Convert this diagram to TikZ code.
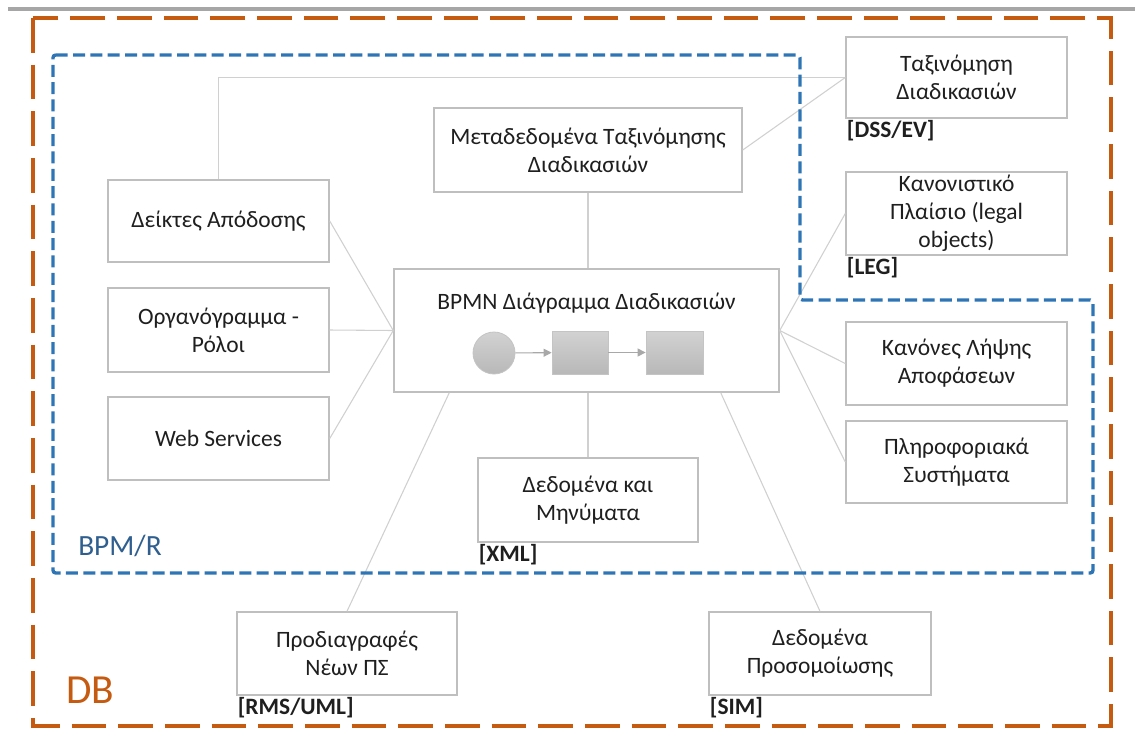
\documentclass[tikz,border=0pt]{standalone}
\usepackage{fontspec}
\setmainfont{Carlito}
\usetikzlibrary{arrows.meta,calc}
\definecolor{orangeDB}{HTML}{C55A11}
\definecolor{blueR}{HTML}{2E75B6}
\definecolor{bluetext}{HTML}{2F5F8F}
\definecolor{boxgray}{HTML}{BFBFBF}
\definecolor{linegray}{HTML}{D0D0D0}
\definecolor{txt}{HTML}{1F1F1F}
\definecolor{topgray}{HTML}{A6A6A6}
\definecolor{shapetop}{HTML}{D2D2D2}
\definecolor{shapebot}{HTML}{B8B8B8}
\definecolor{shapeedge}{HTML}{C4C4C4}
\definecolor{arrowgray}{HTML}{A8A8A8}
\newcommand\bxfont{\fontsize{17.6pt}{21pt}\selectfont}
\begin{document}
\begin{tikzpicture}[x=0.75pt,y=-0.75pt,
 box/.style 2 args={draw=boxgray,line width=1.1pt,fill=white,inner sep=0pt,align=center,text=txt,font=\bxfont,minimum width=#1*0.75pt,minimum height=#2*0.75pt},
 tag/.style={font=\bxfont\bfseries,text=txt,inner sep=1pt,anchor=north west},
 conn/.style={draw=linegray,line width=0.8pt},
 bshape/.style={draw=shapeedge,line width=0.6pt,top color=shapetop,bottom color=shapebot,inner sep=0pt},
 flow/.style={draw=arrowgray,line width=0.8pt,-{Triangle[length=6pt,width=6pt]}},
 ]
\useasboundingbox (0,0) rectangle (1135,729);
\draw[topgray,line width=2.3pt] (8,9) -- (1135,9);

% boxes
\node[box={221}{81}] (tax) at (956.5,77.5) {Ταξινόμηση\\Διαδικασιών};
\node[tag] (taxl) at (tax.south west) {[DSS/EV]};
\node[box={221}{83}] (leg) at (956.5,213.5) {Κανονιστικό\\Πλαίσιο (legal\\objects)};
\node[tag] (legl) at (leg.south west) {[LEG]};
\node[box={308}{84}] (meta) at (588,150) {Μεταδεδομένα Ταξινόμησης\\Διαδικασιών};
\node[box={221}{82}] (deik) at (218.5,221) {Δείκτες Απόδοσης};
\node[box={221}{84}] (org) at (218.5,330) {Οργανόγραμμα -\\Ρόλοι};
\node[box={221}{83}] (web) at (218.5,438.5) {Web Services};
\node[box={385}{123}] (bpmn) at (586.5,330.5) {};
\node[font=\bxfont,text=txt] (bpmnt) at (586.5,303) {BPMN Διάγραμμα Διαδικασιών};
\node[box={220}{84}] (msg) at (588,500) {Δεδομένα και\\Μηνύματα};
\node[tag] (msgl) at (msg.south west) {[XML]};
\node[box={221}{83}] (kan) at (956.5,363.5) {Κανόνες Λήψης\\Αποφάσεων};
\node[box={221}{82}] (pls) at (956.5,462) {Πληροφοριακά\\Συστήματα};
\node[box={220}{83}] (prod) at (347,653.5) {Προδιαγραφές\\Νέων ΠΣ};
\node[tag] (prodl) at (prod.south west) {[RMS/UML]};
\node[box={222}{83}] (sim) at (820,653.5) {Δεδομένα\\Προσομοίωσης};
\node[tag] (siml) at (sim.south west) {[SIM]};

% inner BPMN sketch
\node[bshape,circle,minimum size=42*0.75pt] (ev) at (494,353) {};
\node[bshape,rectangle,minimum width=56*0.75pt,minimum height=43*0.75pt] (t1) at (580,352.5) {};
\node[bshape,rectangle,minimum width=57*0.75pt,minimum height=43*0.75pt] (t2) at (674.5,352.5) {};
\draw[flow] (ev) -- (t1);
\draw[flow] (t1) -- (t2);

% connectors
\draw[conn] (deik.north) |- (tax.west);
\draw[conn] (meta.east) -- (tax.west);
\draw[conn] (meta.south) -- (meta.south |- bpmn.north);
\draw[conn] (deik.east) -- (bpmn.west);
\draw[conn] (org.east) -- (bpmn.west);
\draw[conn] (web.east) -- (bpmn.west);
\draw[conn] (bpmn.east) -- (leg.west);
\draw[conn] (bpmn.east) -- (kan.west);
\draw[conn] (bpmn.east) -- (pls.west);
\draw[conn] (msg.north |- bpmn.south) -- (msg.north);
\coordinate (bl) at ($(bpmn.south west)+(56,0)$);
\coordinate (br) at ($(bpmn.south east)+(-59,0)$);
\draw[conn] (bl) -- (prod.north);
\draw[conn] (br) -- (sim.north);

% frames
\draw[orangeDB,line width=3pt,dash pattern=on 26pt off 9pt] (33,18) rectangle (1111,726);
\draw[blueR,line width=2.5pt,dash pattern=on 9pt off 4pt,rounded corners=2pt] (53,55) -- (800,55) -- (800,300) -- (1093,300) -- (1093,573) -- (53,573) -- cycle;
\node[anchor=base west,text=bluetext,font=\fontsize{22pt}{26pt}\selectfont,inner sep=0pt] (bpmr) at (78,555) {BPM/R};
\node[anchor=base west,text=orangeDB,font=\fontsize{31pt}{36pt}\selectfont,inner sep=0pt] (db) at (66,703) {DB};
\end{tikzpicture}
\end{document}
